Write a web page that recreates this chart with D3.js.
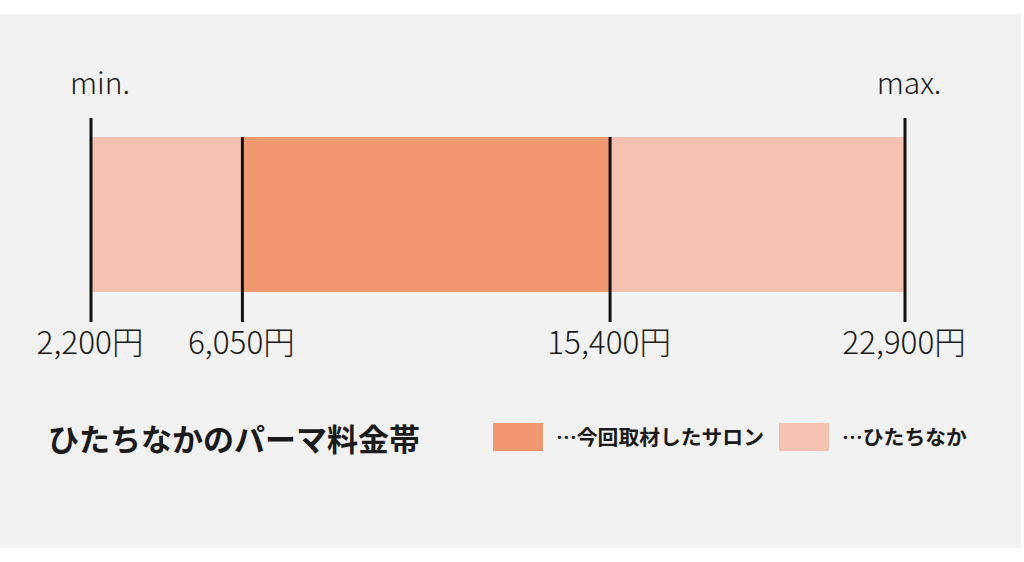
<!DOCTYPE html>
<html>
<head>
<meta charset="utf-8">
<script src="https://cdn.jsdelivr.net/npm/d3@7"></script>
<style>
  html, body { margin: 0; padding: 0; background: #ffffff; }
  svg { display: block; }
  text { font-family: "Noto Sans CJK JP", "Noto Sans", sans-serif; fill: #1a1a1a; }
</style>
</head>
<body>
<script>
// price range data (yen)
const tickValues = [2200, 6050, 15400, 22900];
const tickLabels = ['2,200円', '6,050円', '15,400円', '22,900円'];
const endLabels = ['min.', 'max.'];
const segStart = [2200, 6050, 15400];
const segEnd = [6050, 15400, 22900];
const segGroup = ['area', 'salon', 'area'];
const legendKeys = ['salon', 'area'];
const legendLabels = ['…今回取材したサロン', '…ひたちなか'];
const titleText = 'ひたちなかのパーマ料金帯';

const width = 1024, height = 562;

const svg = d3.select('body').append('svg')
	.attr('width', width)
	.attr('height', height);

svg.append('rect')
	.attr('x', 0).attr('y', 14)
	.attr('width', 1021).attr('height', 534)
	.attr('fill', '#f2f2f2');

const x = d3.scaleLinear()
	.domain(d3.extent(tickValues))
	.range([91, 905]);

const color = d3.scaleOrdinal()
	.domain(legendKeys)
	.range(['#f09970', '#f5c1b0']);

const barTop = 137, barBottom = 292;

// bar segments
svg.selectAll('.seg')
	.data(segStart.map((s, i) => ({ s: s, e: segEnd[i], g: segGroup[i] })))
	.enter().append('rect')
	.attr('class', 'seg')
	.attr('x', d => x(d.s))
	.attr('y', barTop)
	.attr('width', d => x(d.e) - x(d.s))
	.attr('height', barBottom - barTop)
	.attr('fill', d => color(d.g));

// tick lines
const dom = x.domain();
svg.selectAll('.tick-line')
	.data(tickValues)
	.enter().append('line')
	.attr('class', 'tick-line')
	.attr('x1', d => x(d)).attr('x2', d => x(d))
	.attr('y1', d => (d === dom[0] || d === dom[1]) ? 118 : barTop)
	.attr('y2', 322)
	.attr('stroke', '#111')
	.attr('stroke-width', 3);

// tick labels
svg.selectAll('.tick-label')
	.data(tickValues)
	.enter().append('text')
	.attr('class', 'tick-label')
	.attr('x', d => x(d) - 1)
	.attr('y', 354)
	.attr('text-anchor', 'middle')
	.style('font-size', '31.5px')
	.style('font-weight', 300)
	.text((d, i) => tickLabels[i]);

// min / max
const endOffset = [9, 4];
svg.selectAll('.end-label')
	.data(endLabels)
	.enter().append('text')
	.attr('class', 'end-label')
	.attr('x', (d, i) => x(dom[i]) + endOffset[i])
	.attr('y', 94)
	.attr('text-anchor', 'middle')
	.style('font-size', '30px')
	.style('font-weight', 300)
	.text(d => d);

// title
svg.append('text')
	.attr('x', 48)
	.attr('y', 451)
	.style('font-size', '31px')
	.style('font-weight', 700)
	.text(titleText);

// legend
const legendX = [493, 779];
const lg = svg.selectAll('.legend')
	.data(legendKeys)
	.enter().append('g')
	.attr('class', 'legend')
	.attr('transform', (d, i) => `translate(${legendX[i]}, 423)`);

lg.append('rect')
	.attr('width', 50)
	.attr('height', 28)
	.attr('fill', d => color(d));

lg.append('text')
	.attr('x', 63)
	.attr('y', 22)
	.style('font-size', '20.8px')
	.style('font-weight', 700)
	.text((d, i) => legendLabels[i]);
</script>
</body>
</html>
